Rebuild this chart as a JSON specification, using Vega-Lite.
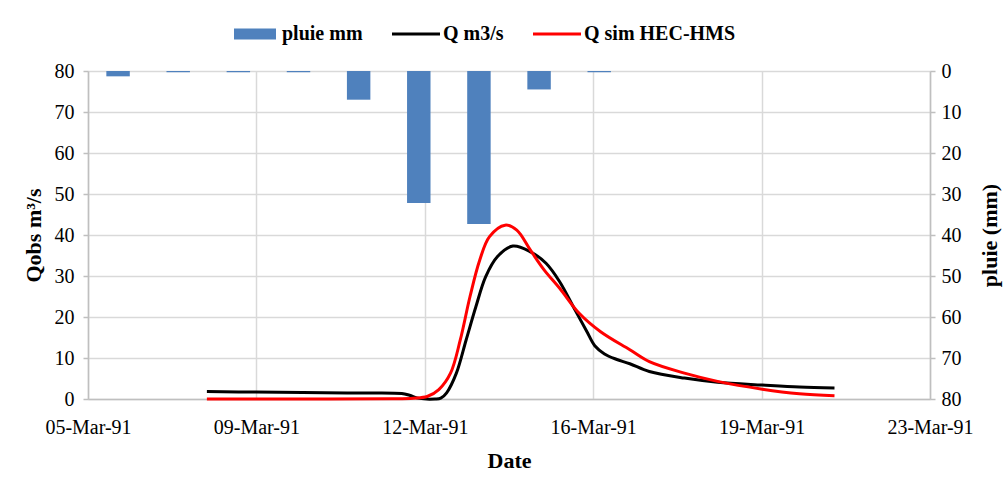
{
  "$schema": "https://vega.github.io/schema/vega-lite/v6.json",
  "width": 842,
  "height": 328,
  "autosize": {"type": "none"},
  "padding": {"left": 88, "top": 71, "right": 75, "bottom": 91},
  "background": "#ffffff",
  "config": {
    "font": "Liberation Serif",
    "view": {"stroke": null},
    "axis": {
      "labelFont": "Liberation Serif",
      "labelFontSize": 20,
      "labelColor": "#000000",
      "titleFont": "Liberation Serif",
      "titleFontSize": 22,
      "titleFontWeight": "bold",
      "titleColor": "#000000",
      "domainColor": "#BFBFBF",
      "domainWidth": 1.5,
      "tickColor": "#BFBFBF",
      "tickWidth": 1.5,
      "gridColor": "#D9D9D9",
      "gridWidth": 1.5
    }
  },
  "datasets": {
    "pluie": [
      {"jour": "1991-03-05", "serie": "pluie mm", "pluie": 1.3},
      {"jour": "1991-03-06", "serie": "pluie mm", "pluie": 0.3},
      {"jour": "1991-03-07", "serie": "pluie mm", "pluie": 0.3},
      {"jour": "1991-03-08", "serie": "pluie mm", "pluie": 0.3},
      {"jour": "1991-03-09", "serie": "pluie mm", "pluie": 7.0},
      {"jour": "1991-03-10", "serie": "pluie mm", "pluie": 32.2},
      {"jour": "1991-03-11", "serie": "pluie mm", "pluie": 37.3},
      {"jour": "1991-03-12", "serie": "pluie mm", "pluie": 4.5},
      {"jour": "1991-03-13", "serie": "pluie mm", "pluie": 0.3},
      {"jour": "1991-03-14", "serie": "pluie mm", "pluie": 0},
      {"jour": "1991-03-15", "serie": "pluie mm", "pluie": 0},
      {"jour": "1991-03-16", "serie": "pluie mm", "pluie": 0},
      {"jour": "1991-03-17", "serie": "pluie mm", "pluie": 0},
      {"jour": "1991-03-18", "serie": "pluie mm", "pluie": 0}
    ],
    "debit": [
      {"date": "1991-03-07T13:00:00Z", "serie": "Q m3/s", "Q": 1.8},
      {"date": "1991-03-08T14:00:00Z", "serie": "Q m3/s", "Q": 1.7},
      {"date": "1991-03-10T13:00:00Z", "serie": "Q m3/s", "Q": 1.45},
      {"date": "1991-03-11T17:00:00Z", "serie": "Q m3/s", "Q": 1.35},
      {"date": "1991-03-11T21:00:00Z", "serie": "Q m3/s", "Q": 0.9},
      {"date": "1991-03-12T02:00:00Z", "serie": "Q m3/s", "Q": 0.15},
      {"date": "1991-03-12T10:00:00Z", "serie": "Q m3/s", "Q": 0.0},
      {"date": "1991-03-12T13:00:00Z", "serie": "Q m3/s", "Q": 0.2},
      {"date": "1991-03-12T16:00:00Z", "serie": "Q m3/s", "Q": 1.5},
      {"date": "1991-03-12T21:00:00Z", "serie": "Q m3/s", "Q": 6.3},
      {"date": "1991-03-13T02:00:00Z", "serie": "Q m3/s", "Q": 14.4},
      {"date": "1991-03-13T07:00:00Z", "serie": "Q m3/s", "Q": 22.5},
      {"date": "1991-03-13T12:00:00Z", "serie": "Q m3/s", "Q": 29.8},
      {"date": "1991-03-13T18:00:00Z", "serie": "Q m3/s", "Q": 34.7},
      {"date": "1991-03-14T02:00:00Z", "serie": "Q m3/s", "Q": 37.3},
      {"date": "1991-03-14T11:00:00Z", "serie": "Q m3/s", "Q": 35.9},
      {"date": "1991-03-14T19:00:00Z", "serie": "Q m3/s", "Q": 33.1},
      {"date": "1991-03-15T02:00:00Z", "serie": "Q m3/s", "Q": 28.6},
      {"date": "1991-03-15T09:00:00Z", "serie": "Q m3/s", "Q": 22.5},
      {"date": "1991-03-15T16:00:00Z", "serie": "Q m3/s", "Q": 16.4},
      {"date": "1991-03-15T20:00:00Z", "serie": "Q m3/s", "Q": 13.0},
      {"date": "1991-03-16T01:00:00Z", "serie": "Q m3/s", "Q": 11.0},
      {"date": "1991-03-16T07:00:00Z", "serie": "Q m3/s", "Q": 9.7},
      {"date": "1991-03-16T14:00:00Z", "serie": "Q m3/s", "Q": 8.6},
      {"date": "1991-03-17T00:00:00Z", "serie": "Q m3/s", "Q": 6.7},
      {"date": "1991-03-17T18:00:00Z", "serie": "Q m3/s", "Q": 5.1},
      {"date": "1991-03-18T11:00:00Z", "serie": "Q m3/s", "Q": 4.1},
      {"date": "1991-03-19T10:00:00Z", "serie": "Q m3/s", "Q": 3.4},
      {"date": "1991-03-20T05:00:00Z", "serie": "Q m3/s", "Q": 2.9},
      {"date": "1991-03-20T23:00:00Z", "serie": "Q m3/s", "Q": 2.7},
      {"date": "1991-03-07T13:00:00Z", "serie": "Q sim HEC-HMS", "Q": 0.0},
      {"date": "1991-03-10T00:00:00Z", "serie": "Q sim HEC-HMS", "Q": 0.0},
      {"date": "1991-03-11T12:00:00Z", "serie": "Q sim HEC-HMS", "Q": 0.05},
      {"date": "1991-03-11T23:00:00Z", "serie": "Q sim HEC-HMS", "Q": 0.2},
      {"date": "1991-03-12T06:00:00Z", "serie": "Q sim HEC-HMS", "Q": 0.6},
      {"date": "1991-03-12T12:00:00Z", "serie": "Q sim HEC-HMS", "Q": 2.3},
      {"date": "1991-03-12T18:00:00Z", "serie": "Q sim HEC-HMS", "Q": 6.3},
      {"date": "1991-03-12T23:00:00Z", "serie": "Q sim HEC-HMS", "Q": 14.4},
      {"date": "1991-03-13T04:00:00Z", "serie": "Q sim HEC-HMS", "Q": 25.0},
      {"date": "1991-03-13T09:00:00Z", "serie": "Q sim HEC-HMS", "Q": 33.9},
      {"date": "1991-03-13T14:00:00Z", "serie": "Q sim HEC-HMS", "Q": 39.6},
      {"date": "1991-03-13T22:00:00Z", "serie": "Q sim HEC-HMS", "Q": 42.4},
      {"date": "1991-03-14T04:00:00Z", "serie": "Q sim HEC-HMS", "Q": 41.2},
      {"date": "1991-03-14T11:00:00Z", "serie": "Q sim HEC-HMS", "Q": 36.3},
      {"date": "1991-03-14T18:00:00Z", "serie": "Q sim HEC-HMS", "Q": 31.5},
      {"date": "1991-03-15T02:00:00Z", "serie": "Q sim HEC-HMS", "Q": 27.0},
      {"date": "1991-03-15T12:00:00Z", "serie": "Q sim HEC-HMS", "Q": 20.9},
      {"date": "1991-03-15T23:00:00Z", "serie": "Q sim HEC-HMS", "Q": 16.4},
      {"date": "1991-03-16T14:00:00Z", "serie": "Q sim HEC-HMS", "Q": 12.0},
      {"date": "1991-03-17T00:00:00Z", "serie": "Q sim HEC-HMS", "Q": 9.1},
      {"date": "1991-03-17T18:00:00Z", "serie": "Q sim HEC-HMS", "Q": 6.3},
      {"date": "1991-03-18T11:00:00Z", "serie": "Q sim HEC-HMS", "Q": 4.3},
      {"date": "1991-03-19T10:00:00Z", "serie": "Q sim HEC-HMS", "Q": 2.4},
      {"date": "1991-03-20T05:00:00Z", "serie": "Q sim HEC-HMS", "Q": 1.3},
      {"date": "1991-03-20T23:00:00Z", "serie": "Q sim HEC-HMS", "Q": 0.8}
    ]
  },
  "layer": [
    {
      "data": {"name": "pluie"},
      "mark": {"type": "bar"},
      "encoding": {
        "x": {
          "field": "jour",
          "type": "ordinal",
          "scale": {"paddingInner": 0.61, "paddingOuter": 0.305},
          "axis": null
        },
        "y": {
          "field": "pluie",
          "type": "quantitative",
          "scale": {"domain": [0, 80], "reverse": true, "nice": false, "zero": true},
          "axis": {
            "orient": "right",
            "title": "pluie (mm)",
            "values": [0, 10, 20, 30, 40, 50, 60, 70, 80],
            "grid": false,
            "ticks": true,
            "tickSize": 5,
            "labelPadding": 6,
            "titleAngle": 270,
            "titleBaseline": "top",
            "titlePadding": 18
          }
        },
        "color": {
          "field": "serie",
          "type": "nominal",
          "scale": {
            "domain": ["pluie mm", "Q m3/s", "Q sim HEC-HMS"],
            "range": ["#4F81BD", "#000000", "#FF0000"]
          },
          "legend": {
            "orient": "none",
            "legendX": 143,
            "legendY": -61,
            "direction": "horizontal",
            "title": null,
            "padding": 0,
            "symbolSize": 2304,
            "symbolType": "square",
            "labelFont": "Liberation Serif",
            "labelFontSize": 20,
            "labelFontWeight": "bold",
            "labelColor": "#000000",
            "labelOffset": 3,
            "columnPadding": 29,
            "encode": {
              "symbols": {
                "update": {
                  "shape": {"signal": "datum.value === 'pluie mm' ? 'M-0.875,-0.23H0.875V0.23H-0.875Z' : 'M-1,-0.065H1V0.065H-1Z'"},
                  "fill": {"scale": "color", "field": "value"},
                  "strokeWidth": {"value": 0},
                  "opacity": {"value": 1},
                  "fillOpacity": {"value": 1}
                }
              }
            }
          }
        }
      }
    },
    {
      "data": {"name": "debit"},
      "mark": {"type": "line", "strokeWidth": 3, "interpolate": "catmull-rom"},
      "encoding": {
        "x": {
          "field": "date",
          "type": "temporal",
          "scale": {
            "type": "utc",
            "domain": [
              {"year": 1991, "month": 3, "date": 5, "utc": true},
              {"year": 1991, "month": 3, "date": 23, "utc": true}
            ],
            "nice": false
          },
          "axis": {
            "title": "Date",
            "values": [
              {"year": 1991, "month": 3, "date": 5, "utc": true},
              {"year": 1991, "month": 3, "date": 8, "hours": 14, "minutes": 24, "utc": true},
              {"year": 1991, "month": 3, "date": 12, "hours": 4, "minutes": 48, "utc": true},
              {"year": 1991, "month": 3, "date": 15, "hours": 19, "minutes": 12, "utc": true},
              {"year": 1991, "month": 3, "date": 19, "hours": 9, "minutes": 36, "utc": true},
              {"year": 1991, "month": 3, "date": 23, "utc": true}
            ],
            "labelExpr": "utcFormat(datum.value + 43200000, '%d-%b-%y')",
            "labelFlush": false,
            "labelOverlap": false,
            "labelBound": false,
            "grid": true,
            "ticks": false,
            "tickSize": 0,
            "labelPadding": 18,
            "labelAngle": 0,
            "titlePadding": 13
          }
        },
        "y": {
          "field": "Q",
          "type": "quantitative",
          "scale": {"domain": [0, 80], "nice": false},
          "axis": {
            "orient": "left",
            "title": "Qobs m³/s",
            "values": [0, 10, 20, 30, 40, 50, 60, 70, 80],
            "grid": true,
            "ticks": true,
            "tickSize": 5,
            "labelPadding": 9,
            "titlePadding": 9
          }
        },
        "color": {"field": "serie", "type": "nominal"}
      }
    }
  ],
  "resolve": {"scale": {"x": "independent", "y": "independent"}}
}
